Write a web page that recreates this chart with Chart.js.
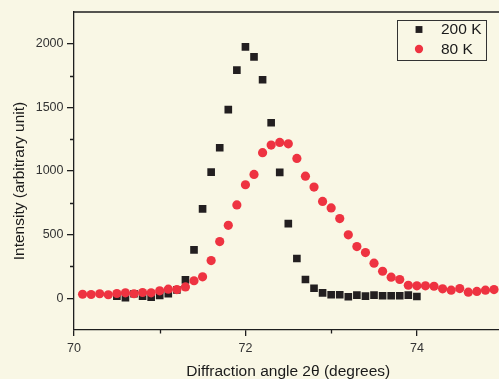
<!DOCTYPE html>
<html><head><meta charset="utf-8">
<script src="https://cdn.jsdelivr.net/npm/chart.js@4/dist/chart.umd.min.js"></script>
<style>
html,body{margin:0;padding:0;overflow:hidden;background:#f9f7e5;width:499px;height:379px;}
#wrap{width:508px;height:379px;}
canvas{display:block;}
</style></head><body>
<div id="wrap"><canvas id="c" width="508" height="379"></canvas></div>
<script>
const seriesLabels = ['200 K', '80 K'];
const angle200 = [70.5,70.6,70.7,70.8,70.9,71.0,71.1,71.2,71.3,71.4,71.5,71.6,71.7,71.8,71.9,72.0,72.1,72.2,72.3,72.4,72.5,72.6,72.7,72.8,72.9,73.0,73.1,73.2,73.3,73.4,73.5,73.6,73.7,73.8,73.9,74.0];
const intensity200 = [16,5,35,16,8,21,35,65,144,380,702,991,1183,1483,1793,1976,1897,1717,1379,989,586,312,147,78,42,27,27,11,24,16,24,19,19,19,24,13];
const angle80 = [70.1,70.2,70.3,70.4,70.5,70.6,70.7,70.8,70.9,71.0,71.1,71.2,71.3,71.4,71.5,71.6,71.7,71.8,71.9,72.0,72.1,72.2,72.3,72.4,72.5,72.6,72.7,72.8,72.9,73.0,73.1,73.2,73.3,73.4,73.5,73.6,73.7,73.8,73.9,74.0,74.1,74.2,74.3,74.4,74.5,74.6,74.7,74.8,74.9];
const intensity80 = [31,29,35,27,37,42,35,45,42,58,71,68,89,137,168,296,445,573,733,892,973,1144,1204,1225,1214,1099,959,874,761,710,626,498,406,359,275,212,165,147,102,97,97,94,74,63,76,47,53,63,68];
const xTicks = [70, 72, 74];
const xMinorTicks = [71, 73, 75];
const yTicks = [0, 500, 1000, 1500, 2000];
const yMinorTicks = [250, 750, 1250, 1750];
const xTitle = 'Diffraction angle 2\u03b8 (degrees)';
const yTitle = 'Intensity (arbitrary unit)';

const FONT = "'Liberation Sans', Arial, sans-serif";
Chart.defaults.font.family = FONT;
const AXIS = '#1e1e1e';

const extras = {
  id: 'extras',
  afterDraw(chart) {
    const ctx = chart.ctx, a = chart.chartArea;
    const xs = chart.scales.x, ys = chart.scales.y;
    ctx.save();
    ctx.strokeStyle = AXIS;
    ctx.lineWidth = 1.3;
    ctx.beginPath();
    ctx.moveTo(a.left - 1, a.top);
    ctx.lineTo(a.right, a.top);
    ctx.stroke();
    ctx.beginPath();
    xMinorTicks.forEach(v => {
      const px = Math.round(xs.getPixelForValue(v)) + 0.5;
      ctx.moveTo(px, a.bottom);
      ctx.lineTo(px, a.bottom + 3.5);
    });
    yMinorTicks.forEach(v => {
      const py = Math.round(ys.getPixelForValue(v)) + 0.5;
      ctx.moveTo(a.left, py);
      ctx.lineTo(a.left - 4, py);
    });
    ctx.stroke();
    ctx.fillStyle = '#1a1a1a';
    ctx.font = '15.5px ' + FONT;
    ctx.textAlign = 'center';
    ctx.textBaseline = 'alphabetic';
    ctx.translate(24, 181);
    ctx.rotate(-Math.PI / 2);
    ctx.fillText(yTitle, 0, 0);
    ctx.restore();

    ctx.save();
    ctx.strokeStyle = '#333';
    ctx.lineWidth = 1;
    ctx.strokeRect(397.5, 20.5, 89, 40);
    chart.data.datasets.forEach((ds, i) => {
      const y = 29.5 + i * 19.5;
      ctx.fillStyle = ds.backgroundColor;
      ctx.strokeStyle = ds.borderColor;
      Chart.helpers.drawPoint(ctx, {pointStyle: ds.pointStyle, radius: ds.pointRadius * 0.9, rotation: 0, borderWidth: 0}, 419, y);
      ctx.fillStyle = '#1a1a1a';
      ctx.font = '15.5px ' + FONT;
      ctx.textAlign = 'left';
      ctx.textBaseline = 'middle';
      ctx.fillText(ds.label, 441, y + 0.5);
    });
    ctx.restore();
  }
};

new Chart(document.getElementById('c'), {
  type: 'scatter',
  data: {
    datasets: [
      {
        label: seriesLabels[0],
        data: angle200.map((x, i) => ({x: x, y: intensity200[i]})),
        pointStyle: 'rect',
        pointRadius: 5.4,
        backgroundColor: '#231f20',
        borderColor: '#231f20',
        borderWidth: 0,
        order: 1
      },
      {
        label: seriesLabels[1],
        data: angle80.map((x, i) => ({x: x, y: intensity80[i]})),
        pointStyle: 'circle',
        pointRadius: 4.6,
        backgroundColor: '#ee3341',
        borderColor: '#ee3341',
        borderWidth: 0,
        order: 0
      }
    ]
  },
  options: {
    responsive: false,
    animation: false,
    events: [],
    layout: {padding: {top: 12, left: 0, right: 0, bottom: 0}},
    plugins: {legend: {display: false}, tooltip: {enabled: false}},
    scales: {
      x: {
        type: 'linear',
        min: 70, max: 75,
        afterBuildTicks: s => { s.ticks = xTicks.map(v => ({value: v})); },
        afterFit: s => { s.height = 49; },
        ticks: {color: '#333', font: {size: 12.5}, padding: 5, maxRotation: 0, autoSkip: false, callback: v => String(v)},
        grid: {drawOnChartArea: false, tickLength: 6, color: AXIS, lineWidth: 1.3},
        border: {color: AXIS, width: 1.3},
        title: {display: true, text: xTitle, color: '#1a1a1a', font: {size: 15.5, lineHeight: 1}, padding: {top: 0, bottom: 0}}
      },
      y: {
        type: 'linear',
        min: -250, max: 2250,
        afterBuildTicks: s => { s.ticks = yTicks.map(v => ({value: v})); },
        afterFit: s => { s.width = 74; },
        ticks: {color: '#333', font: {size: 12.5}, padding: 3.5, callback: v => String(v)},
        grid: {drawOnChartArea: false, tickLength: 7, color: AXIS, lineWidth: 1.3},
        border: {color: AXIS, width: 1.3}
      }
    }
  },
  plugins: [extras]
});
</script>
</body></html>
